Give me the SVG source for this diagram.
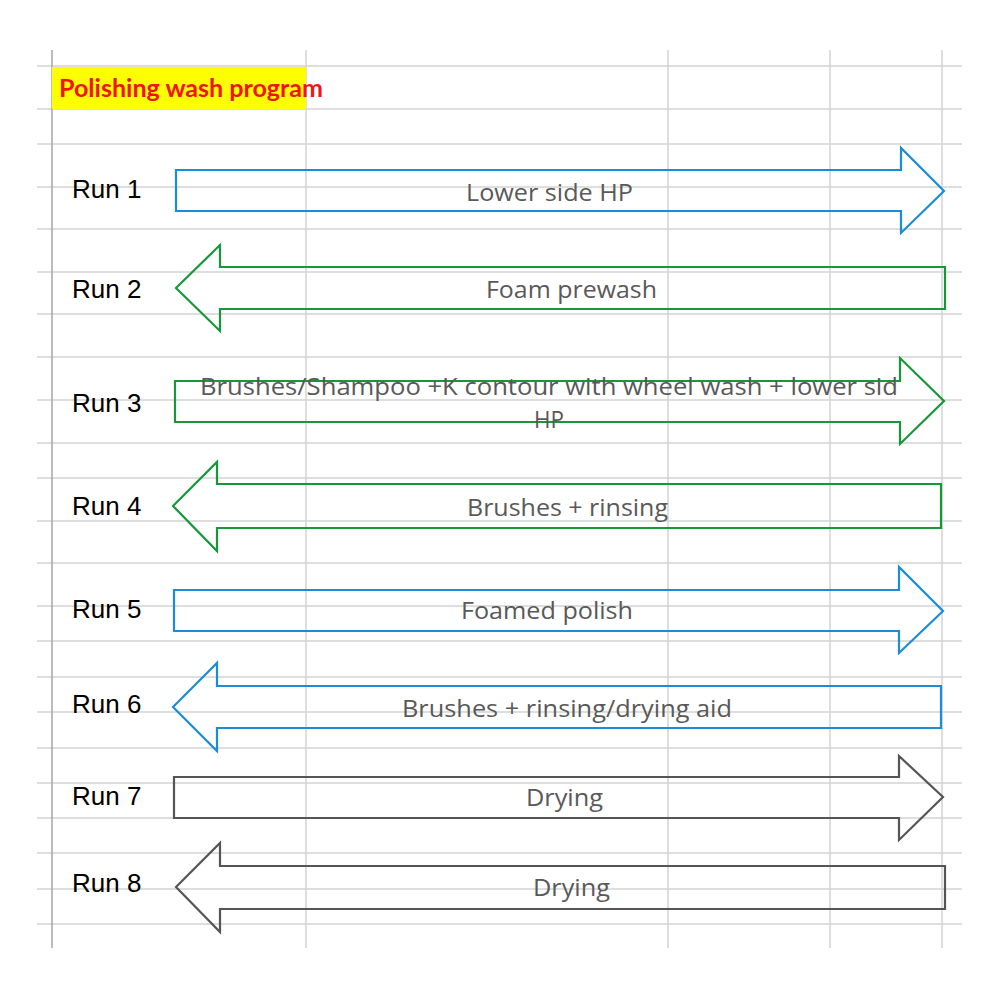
<svg xmlns="http://www.w3.org/2000/svg" width="1000" height="1000" viewBox="0 0 1000 1000">
<style>
.g{stroke:#d4d4d4;stroke-width:1.5;fill:none}
.gl{stroke:#a6a6a6;stroke-width:1.5;fill:none}
.arr{fill:none;stroke-width:2.2;stroke-linejoin:miter}
.blue{stroke:#1b8dd8}
.green{stroke:#16973a}
.gray{stroke:#555555}
.run{font-family:"Liberation Sans",Arial,sans-serif;font-size:26px;fill:#000}
.lbl{font-family:"Open Sans","Liberation Sans",sans-serif;font-size:24px;fill:#595959}
.title{font-family:Lato,"Liberation Sans",sans-serif;font-weight:bold;font-size:25px;fill:#f01414}
</style>
<rect x="0" y="0" width="1000" height="1000" fill="#ffffff"/>
<g id="grid">
<path class="g" d="M37 66H962M37 109H962M37 144H962M37 187H962M37 229H962M37 272H962M37 314H962M37 357H962M37 400H962M37 443H962M37 478H962M37 521H962M37 563H962M37 606H962M37 641H962M37 677H962M37 712H962M37 748H962M37 783H962M37 818H962M37 853H962M37 889H962M37 924H962"/>
<path class="g" d="M306 50V948M668 50V948M830 50V948M942 50V948"/>
<path class="gl" d="M52 50V948"/>
</g>
<g id="title">
<rect x="52" y="67" width="254" height="42" fill="#ffff00"/>
<text class="title" x="59" y="97" textLength="264" lengthAdjust="spacingAndGlyphs">Polishing wash program</text>
</g>
<g id="connectors"></g>
<g id="run1">
<text class="run" x="72" y="198">Run 1</text>
<polygon class="arr blue" points="176,170 901,170 901,148 944,191 901,233 901,211 176,211"/>
<text class="lbl" x="466" y="201" textLength="167" lengthAdjust="spacingAndGlyphs">Lower side HP</text>
</g>
<g id="run2">
<text class="run" x="72" y="298">Run 2</text>
<polygon class="arr green" points="176,288 220,245 220,267 945,267 945,309 220,309 220,331"/>
<text class="lbl" x="486" y="298" textLength="171" lengthAdjust="spacingAndGlyphs">Foam prewash</text>
</g>
<g id="run3">
<text class="run" x="72" y="412">Run 3</text>
<polygon class="arr green" points="175,381 900,381 900,358 944,401 900,444 900,422 175,422"/>
<text class="lbl" x="200" y="395" textLength="698" lengthAdjust="spacingAndGlyphs">Brushes/Shampoo +K contour with wheel wash + lower sid</text>
<text class="lbl" x="534" y="428" textLength="30" lengthAdjust="spacingAndGlyphs">HP</text>
</g>
<g id="run4">
<text class="run" x="72" y="515">Run 4</text>
<polygon class="arr green" points="173,506 217,462 217,484 941,484 941,528 217,528 217,551"/>
<text class="lbl" x="467" y="516" textLength="201" lengthAdjust="spacingAndGlyphs">Brushes + rinsing</text>
</g>
<g id="run5">
<text class="run" x="72" y="618">Run 5</text>
<polygon class="arr blue" points="174,590 899,590 899,567 943,611 899,653 899,631 174,631"/>
<text class="lbl" x="461" y="619" textLength="172" lengthAdjust="spacingAndGlyphs">Foamed polish</text>
</g>
<g id="run6">
<text class="run" x="72" y="713">Run 6</text>
<polygon class="arr blue" points="173,707 217,663 217,686 941,686 941,728 217,728 217,751"/>
<text class="lbl" x="402" y="717" textLength="330" lengthAdjust="spacingAndGlyphs">Brushes + rinsing/drying aid</text>
</g>
<g id="run7">
<text class="run" x="72" y="805">Run 7</text>
<polygon class="arr gray" points="174,777 899,777 899,756 943,797 899,840 899,818 174,818"/>
<text class="lbl" x="526" y="806" textLength="77" lengthAdjust="spacingAndGlyphs">Drying</text>
</g>
<g id="run8">
<text class="run" x="72" y="892">Run 8</text>
<polygon class="arr gray" points="176,887 220,843 220,866 945,866 945,909 220,909 220,932"/>
<text class="lbl" x="533" y="896" textLength="77" lengthAdjust="spacingAndGlyphs">Drying</text>
</g>
</svg>
